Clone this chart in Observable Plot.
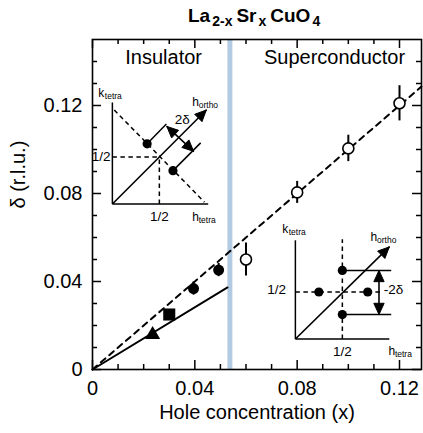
<!DOCTYPE html>
<html><head><meta charset="utf-8">
<script src="https://cdn.jsdelivr.net/npm/d3@7"></script>
<script src="https://cdn.jsdelivr.net/npm/@observablehq/plot@0.6"></script>
<style>
body{margin:0;background:#fff;font-family:"Liberation Sans",Arial,Helvetica,sans-serif;}
#wrap{position:relative;width:423px;height:433px;overflow:hidden;background:#fff;}
#title{position:absolute;left:188px;top:6px;font-weight:bold;font-size:19px;line-height:20px;white-space:nowrap;color:#000;z-index:5}
#title sub{font-size:14px;vertical-align:-4px;margin:0 4px 0 2px;line-height:0}
</style></head><body>
<div id="wrap"><div id="title">La<sub>2-x</sub>Sr<sub>x</sub>CuO<sub>4</sub></div></div>
<script>
// ---------- main chart data ----------
const insulatorX = [0.0235, 0.030, 0.0395, 0.0493];
const insulatorY = [0.0158, 0.025, 0.0368, 0.0452];
const insulatorErr = [0, 0, 0.003, 0.003];
const insulatorSymbol = ["triangle", "square", "circle", "circle"];
const superX = [0.06, 0.08, 0.10, 0.12];
const superY = [0.05, 0.0805, 0.1005, 0.121];
const superErr = [0.0075, 0.005, 0.006, 0.008];
const dashedFitX = [0, 0.1286];
const dashedFitY = [0, 0.1286];
const solidFitX = [0, 0.0528];
const solidFitY = [0, 0.0373];
const boundaryX = [0.0537];
const xMajor = [0, 0.04, 0.08, 0.12];
const yMajor = [0, 0.04, 0.08, 0.12];
const xMinor = [0.01, 0.02, 0.03, 0.05, 0.06, 0.07, 0.09, 0.10, 0.11];
const yMinor = [0.01, 0.02, 0.03, 0.05, 0.06, 0.07, 0.09, 0.10, 0.11, 0.13, 0.14];
const regionLabels = ["Insulator", "Superconductor"];
const regionLabelX = [0.0278, 0.0946];
const regionLabelY = [0.1418, 0.1418];
const xLabel = "Hole concentration (x)";
const yLabel = "δ (r.l.u.)";

// ---------- inset data (h_tetra, k_tetra units) ----------
const inset1Solid = [[[0,0],[0,1.08]], [[0,0],[1.02,0]], [[0.37,0.64],[0.575,0.85]], [[0.645,0.355],[0.94,0.65]]];
const inset1Dashed = [[[0.02,1.0],[0.98,0.02]], [[0,0.5],[0.5,0.5]], [[0.5,0],[0.5,0.5]]];
const inset1Arrows = [[[0,0],[1.0,1.0],false], [[0.58,0.825],[0.865,0.56],true]];
const inset1DotH = [0.37, 0.645];
const inset1DotK = [0.64, 0.355];
const inset1Letters = ["k", "h", "h"];
const inset1Subs = ["tetra", "ortho", "tetra"];
const inset1LetterH = [-0.15, 0.85, 0.85];
const inset1LetterK = [1.18, 1.08, -0.14];
const inset1Text = ["1/2", "1/2", "2δ"];
const inset1TextH = [-0.02, 0.5, 0.745];
const inset1TextK = [0.5, -0.14, 0.9];
const inset1TextAnchor = ["end", "middle", "middle"];

const inset2Solid = [[[0,0],[0,1.05]], [[0,0],[1.0,0]], [[0.5,0.73],[1.02,0.73]], [[0.5,0.26],[1.02,0.26]]];
const inset2Dashed = [[[0.5,0],[0.5,1.06]], [[0,0.5],[0.91,0.5]]];
const inset2Arrows = [[[0,0],[1.0,0.98],false], [[0.89,0.73],[0.89,0.26],true]];
const inset2DotH = [0.5, 0.5, 0.25, 0.77];
const inset2DotK = [0.73, 0.26, 0.5, 0.5];
const inset2Letters = ["k", "h", "h"];
const inset2Subs = ["tetra", "ortho", "tetra"];
const inset2LetterH = [-0.14, 0.8, 0.99];
const inset2LetterK = [1.17, 1.08, -0.13];
const inset2Text = ["1/2", "1/2", "-2δ"];
const inset2TextH = [-0.1, 0.5, 0.94];
const inset2TextK = [0.52, -0.13, 0.52];
const inset2TextAnchor = ["end", "middle", "start"];

// ---------- build ----------
const FONT = '"Liberation Sans", Arial, Helvetica, sans-serif';
const W = 423, H = 433, mt = 39, mb = 64, ml = 92, mr = 2;
const ph = H - mt - mb, pw = W - ml - mr;
const fmt = d => d === 0 ? "0" : d.toFixed(2);
const zipXY = (xs, ys) => xs.map((x, i) => ({x, y: ys[i]}));

const insData = insulatorX.map((x, i) => ({x, y: insulatorY[i], e: insulatorErr[i], s: insulatorSymbol[i]}));
const supData = superX.map((x, i) => ({x, y: superY[i], e: superErr[i]}));
const regions = regionLabels.map((t, i) => ({t, x: regionLabelX[i], y: regionLabelY[i]}));
const minorLen = 5, majorLen = 9;

const main = Plot.plot({
  width: W, height: H, marginTop: mt, marginBottom: mb, marginLeft: ml, marginRight: mr,
  style: {fontFamily: FONT, fontSize: "20px", background: "transparent", color: "black"},
  x: {domain: [0, 0.1286]},
  y: {domain: [0, 0.15]},
  marks: [
    Plot.ruleX(boundaryX, {x: d => d, stroke: "#b3cbe2", strokeWidth: 5}),
    Plot.line(zipXY(dashedFitX, dashedFitY), {x: "x", y: "y", stroke: "black", strokeWidth: 2, strokeDasharray: "6,5"}),
    Plot.line(zipXY(solidFitX, solidFitY), {x: "x", y: "y", stroke: "black", strokeWidth: 2}),
    Plot.ruleX(insData.filter(d => d.e > 0), {x: "x", y1: d => d.y - d.e, y2: d => d.y + d.e, stroke: "black", strokeWidth: 2}),
    Plot.ruleX(supData, {x: "x", y1: d => d.y - d.e, y2: d => d.y + d.e, stroke: "black", strokeWidth: 2}),
    Plot.dot(insData.filter(d => d.s === "circle"), {x: "x", y: "y", r: 5.5, fill: "black", symbol: "circle"}),
    Plot.dot(insData.filter(d => d.s === "square"), {x: "x", y: "y", r: 6.8, fill: "black", symbol: "square"}),
    Plot.dot(insData.filter(d => d.s === "triangle"), {x: "x", y: "y", r: 5.6, fill: "black", symbol: "triangle"}),
    Plot.dot(supData, {x: "x", y: "y", r: 5.5, fill: "white", stroke: "black", strokeWidth: 1.6}),
    // inward ticks on all four sides
    Plot.ruleX(xMinor, {x: d => d, insetTop: ph - minorLen, stroke: "black", strokeWidth: 1.5}),
    Plot.ruleX(xMajor, {x: d => d, insetTop: ph - majorLen, stroke: "black", strokeWidth: 1.5}),
    Plot.ruleX(xMinor, {x: d => d, insetBottom: ph - minorLen, stroke: "black", strokeWidth: 1.5}),
    Plot.ruleX(xMajor, {x: d => d, insetBottom: ph - majorLen, stroke: "black", strokeWidth: 1.5}),
    Plot.ruleY(yMinor, {y: d => d, insetRight: pw - minorLen, stroke: "black", strokeWidth: 1.5}),
    Plot.ruleY(yMajor, {y: d => d, insetRight: pw - majorLen, stroke: "black", strokeWidth: 1.5}),
    Plot.ruleY(yMinor, {y: d => d, insetLeft: pw - minorLen, stroke: "black", strokeWidth: 1.5}),
    Plot.ruleY(yMajor, {y: d => d, insetLeft: pw - majorLen, stroke: "black", strokeWidth: 1.5}),
    Plot.frame({stroke: "black", strokeWidth: 1.6}),
    Plot.axisX(xMajor, {tickSize: 0, tickPadding: 11, tickFormat: fmt, fontSize: 20, label: null}),
    Plot.axisY(yMajor, {tickSize: 0, tickPadding: 10, tickFormat: fmt, fontSize: 20, label: null}),
    Plot.text(regions, {x: "x", y: "y", text: "t", fontSize: 20, fill: "black"}),
    Plot.text([xLabel], {frameAnchor: "bottom", dy: 49, text: d => d, fontSize: 20, fill: "black"}),
    Plot.text([yLabel], {frameAnchor: "left", dx: -74, dy: 4, rotate: -90, text: d => d, fontSize: 20, fill: "black"})
  ]
});
main.style.position = "absolute";
main.style.left = "0px";
main.style.top = "0px";
document.getElementById("wrap").appendChild(main);

// arrow head polygons derived from the arrow segments
function headPolys(arrows, len = 0.12, w = 0.055) {
  const out = []; let id = 0;
  for (const [a, b, both] of arrows) {
    const ends = both ? [[a, b], [b, a]] : [[a, b]];
    for (const [p, q] of ends) {
      const dx = q[0] - p[0], dy = q[1] - p[1], L = Math.hypot(dx, dy);
      const ux = dx / L, uy = dy / L;
      const bx = q[0] - ux * len, by = q[1] - uy * len;
      const pts = [[q[0], q[1]], [bx - uy * w, by + ux * w], [bx + uy * w, by - ux * w], [q[0], q[1]]];
      pts.forEach(([h, k]) => out.push({id, h, k}));
      id++;
    }
  }
  return out;
}

const U = 94; // px per inset unit
const hDom = [-0.35, 1.3], kDom = [-0.25, 1.25];
function makeInset(cfg) {
  const seg = {x1: d => d[0][0], y1: d => d[0][1], x2: d => d[1][0], y2: d => d[1][1]};
  const dots = cfg.dotH.map((h, i) => ({h, k: cfg.dotK[i]}));
  const letters = cfg.letters.map((t, i) => ({t, s: cfg.subs[i], h: cfg.letterH[i], k: cfg.letterK[i]}));
  const texts = cfg.text.map((t, i) => ({t, h: cfg.textH[i], k: cfg.textK[i], a: cfg.textAnchor[i]}));
  const svg = Plot.plot({
    width: Math.round((hDom[1] - hDom[0]) * U), height: Math.round((kDom[1] - kDom[0]) * U),
    margin: 0,
    style: {fontFamily: FONT, background: "transparent", overflow: "visible", color: "black"},
    x: {domain: hDom, axis: null},
    y: {domain: kDom, axis: null},
    marks: [
      Plot.link(cfg.dashed, {...seg, stroke: "black", strokeWidth: 1.5, strokeDasharray: "4.5,3.5"}),
      Plot.link(cfg.solid, {...seg, stroke: "black", strokeWidth: 1.5}),
      Plot.link(cfg.arrows, {x1: d => d[0][0], y1: d => d[0][1], x2: d => d[1][0], y2: d => d[1][1], stroke: "black", strokeWidth: 1.6}),
      Plot.line(headPolys(cfg.arrows), {x: "h", y: "k", z: "id", fill: "black", stroke: "black", strokeWidth: 1}),
      Plot.dot(dots, {x: "h", y: "k", r: 4.6, fill: "black"}),
      Plot.text(letters, {x: "h", y: "k", text: "t", textAnchor: "start", fontSize: 12, fill: "black"}),
      Plot.text(letters, {x: "h", y: "k", text: "s", textAnchor: "start", dx: 6.5, dy: 3, fontSize: 8.5, fill: "black"}),
      Plot.text(texts.filter(d => d.a === "end"), {x: "h", y: "k", text: "t", textAnchor: "end", fontSize: 13.5, fill: "black"}),
      Plot.text(texts.filter(d => d.a === "middle"), {x: "h", y: "k", text: "t", textAnchor: "middle", fontSize: 13.5, fill: "black"}),
      Plot.text(texts.filter(d => d.a === "start"), {x: "h", y: "k", text: "t", textAnchor: "start", fontSize: 13.5, fill: "black"})
    ]
  });
  svg.style.position = "absolute";
  svg.style.left = (cfg.originX + hDom[0] * U) + "px";
  svg.style.top = (cfg.originY - kDom[1] * U) + "px";
  document.getElementById("wrap").appendChild(svg);
}

makeInset({originX: 112, originY: 203.5, solid: inset1Solid, dashed: inset1Dashed, arrows: inset1Arrows,
  dotH: inset1DotH, dotK: inset1DotK, letters: inset1Letters, subs: inset1Subs, letterH: inset1LetterH, letterK: inset1LetterK,
  text: inset1Text, textH: inset1TextH, textK: inset1TextK, textAnchor: inset1TextAnchor});
makeInset({originX: 295, originY: 338, solid: inset2Solid, dashed: inset2Dashed, arrows: inset2Arrows,
  dotH: inset2DotH, dotK: inset2DotK, letters: inset2Letters, subs: inset2Subs, letterH: inset2LetterH, letterK: inset2LetterK,
  text: inset2Text, textH: inset2TextH, textK: inset2TextK, textAnchor: inset2TextAnchor});
</script>
</body></html>
